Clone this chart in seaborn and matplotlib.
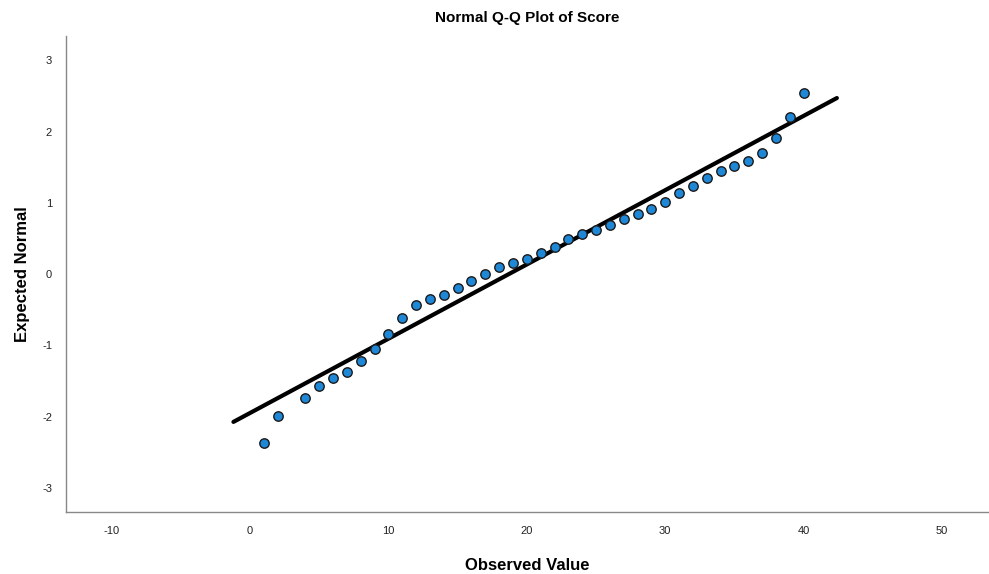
import matplotlib
matplotlib.use("Agg")
import matplotlib.pyplot as plt
import seaborn as sns
import numpy as np
import pandas as pd

observed = [1, 2, 4, 5, 6, 7, 8, 9, 10, 11, 12, 13, 14, 15, 16, 17, 18, 19, 20,
            21, 22, 23, 24, 25, 26, 27, 28, 29, 30, 31, 32, 33, 34, 35, 36, 37, 38, 39, 40]
expected = [-2.37, -1.99, -1.74, -1.57, -1.46, -1.37, -1.22, -1.05, -0.84, -0.62,
            -0.44, -0.35, -0.29, -0.19, -0.10, 0.00, 0.10, 0.15, 0.21, 0.29,
            0.38, 0.49, 0.56, 0.62, 0.69, 0.77, 0.85, 0.91, 1.01, 1.14,
            1.24, 1.35, 1.45, 1.52, 1.59, 1.70, 1.91, 2.21, 2.54]
line_x = [-1.2, 42.4]
line_mean = 18.7
line_sd = 9.59

sns.set_theme(style="white")
plt.rcParams['font.family'] = ['Liberation Sans', 'DejaVu Sans']
plt.rcParams['axes.unicode_minus'] = False

df = pd.DataFrame({"Observed Value": observed, "Expected Normal": expected})
line_df = pd.DataFrame({"x": line_x, "y": [(v - line_mean) / line_sd for v in line_x]})

fig = plt.figure(figsize=(9.89, 5.74), dpi=100)
ax = fig.add_axes([0.0667, 0.108, 0.932, 0.829])

sns.lineplot(data=line_df, x="x", y="y", ax=ax, color="black", linewidth=3, zorder=2)
sns.scatterplot(data=df, x="Observed Value", y="Expected Normal", ax=ax,
                color="#1f88d6", edgecolor="#1a1a1a", linewidth=1.0, s=46, zorder=3)

ax.set_xlim(-13.3, 53.3)
ax.set_ylim(-3.34, 3.34)
ax.set_xticks([-10, 0, 10, 20, 30, 40, 50])
ax.set_yticks([-3, -2, -1, 0, 1, 2, 3])
ax.tick_params(axis='both', length=0, labelsize=8, colors="#222222", pad=10)

for s in ["top", "right"]:
    ax.spines[s].set_visible(False)
for s in ["left", "bottom"]:
    ax.spines[s].set_color("#888888")
    ax.spines[s].set_linewidth(1.0)

ax.set_xlabel("Observed Value", fontsize=12, fontweight="bold", labelpad=16, color="black")
ax.set_ylabel("Expected Normal", fontsize=12, fontweight="bold", labelpad=9, color="black")
ax.set_title("Normal Q-Q Plot of Score", fontsize=11, fontweight="bold", pad=10, color="black")

fig.savefig("out.png", dpi=100)
